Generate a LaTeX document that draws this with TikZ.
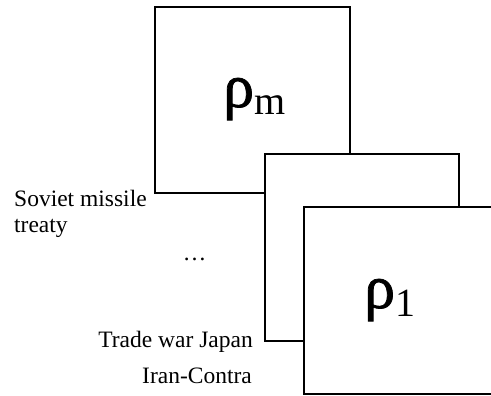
\documentclass[tikz,border=0pt]{standalone}
\usepackage{fontspec}
\setmainfont{Liberation Serif}
\newfontfamily\rhofont[FakeBold=1.2]{Liberation Serif}
\begin{document}
\begin{tikzpicture}[x=1pt,y=-1pt,
  box/.style={draw, line width=1.8pt, fill=white, inner sep=0pt, anchor=north west},
  lbl/.style={font=\fontsize{23.5}{26}\selectfont, inner sep=0pt},
  rho/.style={inner sep=0pt, anchor=base west}]
\useasboundingbox (0,0) rectangle (491,396);
\clip (0,0) rectangle (491,396);
\node[box, minimum width=195pt, minimum height=186pt] (bm) at (154,6) {};
\node[box, minimum width=194pt, minimum height=187pt] (bmid) at (264,153) {};
\node[box, minimum width=195pt, minimum height=187pt] (b1) at (303,206) {};
\node[rho] (rm) at (223,107) {{\rhofont\fontsize{62}{62}\selectfont ρ}\raisebox{-8pt}{\fontsize{40}{40}\selectfont m}};
\node[rho] (r1) at (364,308) {{\rhofont\fontsize{62}{62}\selectfont ρ}\raisebox{-9pt}{\fontsize{40}{40}\selectfont 1}};
\node[lbl, anchor=base west] (sov1) at (14,207) {Soviet missile};
\node[lbl, anchor=base west] (sov2) at (14,233) {treaty};
\node[lbl, anchor=base] (dots) at (194.5,260) {…};
\node[lbl, anchor=base east] (trade) at (253,347) {Trade war Japan};
\node[lbl, anchor=base east] (iran) at (252,383) {Iran-Contra};
\end{tikzpicture}
\end{document}
